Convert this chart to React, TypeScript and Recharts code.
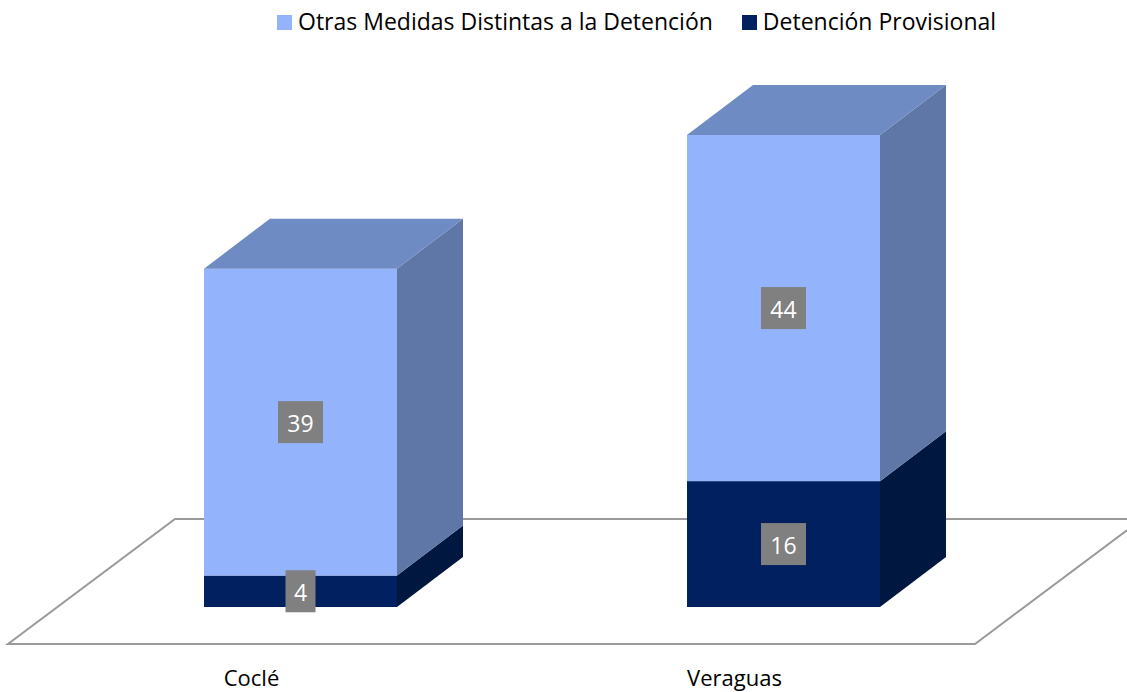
import React from 'react';
import { BarChart, Bar, XAxis, YAxis, Legend, LabelList } from 'recharts';

const categories = ['Coclé', 'Veraguas'];
const detencionProvisional = [4, 16];
const otrasMedidas = [39, 44];
const seriesNames = ['Otras Medidas Distintas a la Detención', 'Detención Provisional'];
const yDomain = [0, 60];

const data = categories.map((c, i) => ({
  name: c,
  det: detencionProvisional[i],
  otras: otrasMedidas[i],
}));

const W = 1127;
const H = 692;
const MARGIN = { top: 95, right: 102, bottom: 55, left: 59 };
const DX = 66;
const DY = 50;
const FONT = '"Open Sans", sans-serif';

const LIGHT = { front: '#93B4FD', side: '#5E77A6', top: '#6F8BC3' };
const DARK = { front: '#002060', side: '#00173F', top: '#001A4F' };

const makeShape = (col: any, drawTop: boolean, drawFloor: boolean) => (props: any) => {
  const { x, y, width, height, index } = props;
  const base = y + height;
  const right = x + width;
  const side = `${right},${y} ${right + DX},${y - DY} ${right + DX},${base - DY} ${right},${base}`;
  const top = `${x},${y} ${x + DX},${y - DY} ${right + DX},${y - DY} ${right},${y}`;
  let floor = null;
  if (drawFloor && index === 0) {
    const pl = MARGIN.left;
    const pr = W - MARGIN.right;
    const fy = base + 37;
    const fl = pl - 51;
    const fr = pr - 50;
    const bx = 167;
    const by = 125;
    floor = (
      <polygon
        points={`${fl},${fy} ${fr},${fy} ${fr + bx},${fy - by} ${fl + bx},${fy - by}`}
        fill="none"
        stroke="#9A9A9A"
        strokeWidth={2}
      />
    );
  }
  return (
    <g>
      {floor}
      <rect x={x} y={y} width={width} height={height} fill={col.front} />
      <polygon points={side} fill={col.side} />
      {drawTop && <polygon points={top} fill={col.top} />}
    </g>
  );
};

const renderLabel = (props: any) => {
  const vb = props.viewBox || {};
  const x = props.x ?? vb.x;
  const y = props.y ?? vb.y;
  const width = props.width ?? vb.width;
  const height = props.height ?? vb.height;
  const str = String(props.value);
  const cx = x + width / 2;
  const cy = y + height / 2;
  const bw = 15 + 15 * str.length;
  const bh = 42;
  return (
    <g>
      <rect x={cx - bw / 2} y={cy - bh / 2} width={bw} height={bh} fill="#808080" />
      <text
        x={cx}
        y={cy + 1}
        fill="#FFFFFF"
        textAnchor="middle"
        dominantBaseline="central"
        fontSize={23}
        fontFamily={FONT}
      >
        {str}
      </text>
    </g>
  );
};

const Tick = (props: any) => (
  <text
    x={props.x - 49}
    y={props.y + 71}
    textAnchor="middle"
    fontFamily={FONT}
    fontSize={22}
    fill="#000000"
  >
    {props.payload.value}
  </text>
);

const legendColors = [LIGHT.front, DARK.front];

const LegendContent = () => (
  <div
    style={{
      height: 40,
      display: 'flex',
      alignItems: 'center',
      paddingLeft: 277,
      paddingTop: 2,
      boxSizing: 'border-box',
      fontFamily: FONT,
      fontSize: 23,
      color: '#000',
      whiteSpace: 'nowrap',
    }}
  >
    {seriesNames.map((n, i) => (
      <div key={n} style={{ display: 'flex', alignItems: 'center', marginRight: 29 }}>
        <span
          style={{
            width: 15,
            height: 15,
            background: legendColors[i],
            marginRight: 6,
            marginTop: 2,
            display: 'inline-block',
          }}
        />
        <span>{n}</span>
      </div>
    ))}
  </div>
);

export default function App() {
  return (
    <div style={{ position: 'absolute', left: 0, top: 0, width: W, height: H, background: '#fff' }}>
      <BarChart width={W} height={H} data={data} margin={MARGIN}>
        <XAxis dataKey="name" axisLine={false} tickLine={false} tick={<Tick />} height={30} />
        <YAxis hide domain={yDomain} />
        <Legend verticalAlign="top" align="left" wrapperStyle={{ top: 0, left: 0, width: W }} content={<LegendContent />} />
        <Bar dataKey="det" stackId="a" barSize={193} shape={makeShape(DARK, false, true)} isAnimationActive={false}>
          <LabelList dataKey="det" content={renderLabel} />
        </Bar>
        <Bar dataKey="otras" stackId="a" barSize={193} shape={makeShape(LIGHT, true, false)} isAnimationActive={false}>
          <LabelList dataKey="otras" content={renderLabel} />
        </Bar>
      </BarChart>
    </div>
  );
}
